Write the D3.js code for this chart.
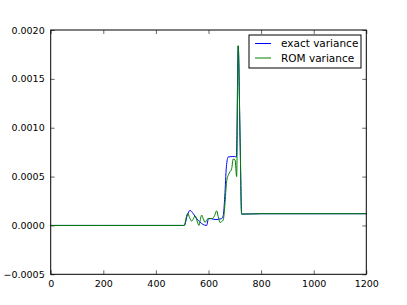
<!DOCTYPE html>
<html>
<head>
<meta charset="utf-8">
<script src="https://cdn.jsdelivr.net/npm/d3@7"></script>
<style>
  body { margin: 0; background: #fff; }
  text { font-family: "DejaVu Sans", sans-serif; }
</style>
</head>
<body>
<div id="chart"></div>
<script>
// x positions and variance values
const exactX = [0, 200, 400, 508, 520, 530, 542, 555, 565, 574, 585, 593, 600, 610, 625, 650, 656, 662, 668, 675, 690, 700, 706, 713, 720, 726, 800, 1000, 1200];
const exactV = [0, 0, 0, 0, 0.00011, 0.000154, 0.00012, 0.00007, 0.00004, 0.00002, 0.000003, 0, 0.00007, 0.00007, 0.00006, 0.00007, 0.0001, 0.0003, 0.0006, 0.0007, 0.000705, 0.000705, 0.0007, 0.001836, 0.0009, 0.000116, 0.00012, 0.00012, 0.00012];

const romX = [0, 200, 400, 508, 515, 521, 528, 536, 543, 549, 556, 564, 569, 574, 580, 587, 594, 600, 615, 623, 631, 637, 644, 650, 656, 662, 669, 676, 682, 688, 694, 701, 707, 713, 720, 726, 800, 1000, 1200];
const romV = [0, 0, 0, 0, 0.00008, 0.000123, 0.00008, 0.000045, 0.00007, 0.0001, 0.00005, 0, 0.00006, 0.000106, 0.00007, 0.00003, 0.00006, 0.00007, 0.00007, 0.0001, 0.00015, 0.00009, 0.00003, 0.00004, 0.000055, 0.0002, 0.00045, 0.00052, 0.00055, 0.00058, 0.00068, 0.00067, 0.0005, 0.00184, 0.0009, 0.000116, 0.00012, 0.00012, 0.00012];

const xTicks = [0, 200, 400, 600, 800, 1000, 1200];
const yTicks = [-0.0005, 0, 0.0005, 0.0010, 0.0015, 0.0020];
const seriesNames = ["exact variance", "ROM variance"];
const seriesColors = ["#0000ff", "#008000"];

const W = 407, H = 305;
const margin = {top: 30, right: 40.7, bottom: 30.7, left: 50.7};
const width = W - margin.left - margin.right;
const height = H - margin.top - margin.bottom;

const svg = d3.select("#chart").append("svg")
  .attr("width", W)
  .attr("height", H);

const g = svg.append("g")
  .attr("transform", `translate(${margin.left},${margin.top})`);

const x = d3.scaleLinear().domain([0, 1200]).range([0, width]);
const y = d3.scaleLinear().domain([-0.0005, 0.0020]).range([height, 0]);

const fmtY = v => d3.format(".4f")(v).replace("-", "\u2212");

// axes with inward ticks, mirrored on top and right
g.append("g")
  .attr("transform", `translate(0,${height})`)
  .call(d3.axisBottom(x).tickValues(xTicks).tickSizeInner(-4).tickSizeOuter(0).tickPadding(6).tickFormat(d3.format("d")))
  .call(a => a.select(".domain").remove());

g.append("g")
  .call(d3.axisTop(x).tickValues(xTicks).tickSizeInner(-4).tickSizeOuter(0).tickFormat(""))
  .call(a => a.select(".domain").remove());

g.append("g")
  .call(d3.axisLeft(y).tickValues(yTicks).tickSizeInner(-4).tickSizeOuter(0).tickPadding(6).tickFormat(fmtY))
  .call(a => a.select(".domain").remove());

g.append("g")
  .attr("transform", `translate(${width},0)`)
  .call(d3.axisRight(y).tickValues(yTicks).tickSizeInner(-4).tickSizeOuter(0).tickFormat(""))
  .call(a => a.select(".domain").remove());

g.selectAll(".tick text")
  .attr("font-size", "9.5px")
  .attr("font-family", "DejaVu Sans, sans-serif")
  .attr("fill", "#000");
g.selectAll(".tick line").attr("stroke", "#000").attr("stroke-width", 0.6);

const line = d3.line()
  .curve(d3.curveMonotoneX)
  .x(d => x(d[0]))
  .y(d => y(d[1]));

const exactData = exactX.map((v, i) => [v, exactV[i]]);
const romData = romX.map((v, i) => [v, romV[i]]);

g.append("path")
  .datum(exactData)
  .attr("fill", "none")
  .attr("stroke", seriesColors[0])
  .attr("stroke-width", 1)
  .attr("d", line);

g.append("path")
  .datum(romData)
  .attr("fill", "none")
  .attr("stroke", seriesColors[1])
  .attr("stroke-width", 1)
  .attr("d", line);

// frame
g.append("rect")
  .attr("width", width)
  .attr("height", height)
  .attr("fill", "none")
  .attr("stroke", "#000")
  .attr("stroke-width", 1);

// legend
const legend = g.append("g")
  .attr("transform", `translate(${width - 117.3},5)`);

legend.append("rect")
  .attr("width", 112)
  .attr("height", 33)
  .attr("fill", "#fff")
  .attr("stroke", "#000")
  .attr("stroke-width", 1);

const item = legend.selectAll(".item")
  .data(seriesNames)
  .enter().append("g")
  .attr("transform", (d, i) => `translate(0,${8.5 + i * 14.5})`);

item.append("line")
  .attr("x1", 6)
  .attr("x2", 22)
  .attr("stroke", (d, i) => seriesColors[i])
  .attr("stroke-width", 1);

item.append("text")
  .attr("x", 32)
  .attr("dy", "0.35em")
  .attr("font-size", "10.5px")
  .text(d => d);
</script>
</body>
</html>
